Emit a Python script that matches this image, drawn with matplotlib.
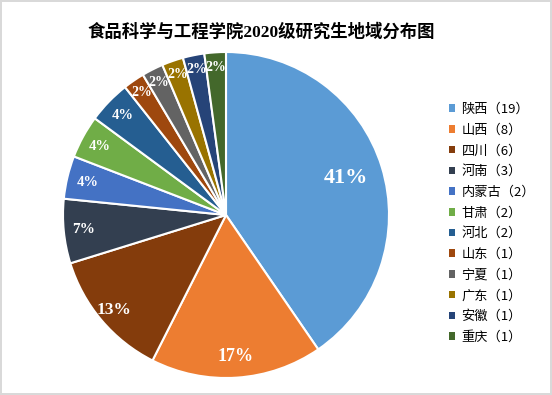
import numpy as np
import matplotlib.pyplot as plt

# 各地域の人数
provinces = ['陕西', '山西', '四川', '河南', '内蒙古', '甘肃', '河北',
             '山东', '宁夏', '广东', '安徽', '重庆']
counts = [19, 8, 6, 3, 2, 2, 2, 1, 1, 1, 1, 1]
pct_labels = ['41%', '17%', '13%', '7%', '4%', '4%', '4%',
              '2%', '2%', '2%', '2%', '2%']

colors = ['#5B9BD5', '#ED7D31', '#843C0C', '#333F50', '#4472C4', '#70AD47',
          '#255E91', '#9E480E', '#636363', '#997300', '#264478', '#43682B']

# ラベルの位置と大きさ
label_r = [0.77, 0.87, 0.90, 0.88, 0.87, 0.88, 0.88, 0.91, 0.91, 0.91, 0.91, 0.91]
label_size = [16, 13, 12.5, 11, 10.5, 10.5, 10.5, 10, 10, 10, 10, 10]

W, H = 552, 395
fig = plt.figure(figsize=(W / 100, H / 100), dpi=100)
fig.patch.set_edgecolor('#d9d9d9')
fig.patch.set_linewidth(1.5)

cx, cy, rad = 226, 215, 163
ax = fig.add_axes([(cx - rad) / W, (H - cy - rad) / H, 2 * rad / W, 2 * rad / H])

wedges, _ = ax.pie(counts, colors=colors, startangle=90, counterclock=False,
                   radius=1, wedgeprops=dict(edgecolor='white', linewidth=1.5))
ax.set_xlim(-1, 1)
ax.set_ylim(-1, 1)
ax.set_aspect('equal')

for w, lab, r, fs in zip(wedges, pct_labels, label_r, label_size):
    mid = np.deg2rad((w.theta1 + w.theta2) / 2)
    ax.text(r * np.cos(mid), r * np.sin(mid), lab, ha='center', va='center',
            color='white', fontsize=fs, fontweight='bold', family='Liberation Serif')

# タイトル
fig.text(261 / W, 1 - 32 / H, '食品科学与工程学院2020级研究生地域分布图',
         ha='center', va='center', fontsize=12.5, fontweight='bold',
         family=['Liberation Serif', 'Noto Sans CJK SC'])

# 凡例
legend_labels = [f'{p}（{c}）' for p, c in zip(provinces, counts)]
leg = fig.legend(wedges, legend_labels, loc='upper left',
                 bbox_to_anchor=(437 / W, 1 - 91 / H), frameon=False,
                 handlelength=0.5, handleheight=0.5, handletextpad=0.45,
                 labelspacing=0.585,
                 prop={'family': ['Noto Sans CJK SC', 'DejaVu Sans'], 'size': 9.5})
for h in leg.legend_handles:
    h.set_edgecolor('none')

fig.savefig('out.png', dpi=100)
